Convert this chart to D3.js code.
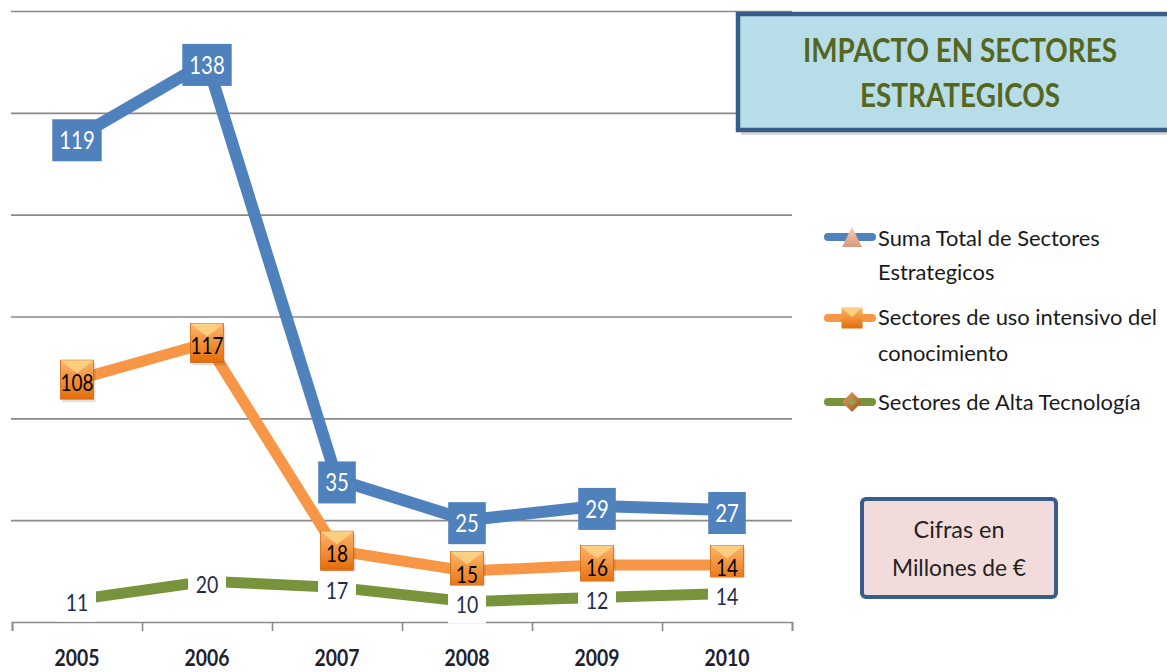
<!DOCTYPE html>
<html><head><meta charset="utf-8">
<script src="https://cdn.jsdelivr.net/npm/d3@7"></script>
<style>body{margin:0;background:#fff} svg{display:block;font-family:Lato,"Open Sans",sans-serif}</style>
</head><body>
<svg id="chart" width="1167" height="672"></svg>
<script>
// ---- data ----
const years = ["2005","2006","2007","2008","2009","2010"];
const altaTecnologia = [11,20,17,10,12,14];
const usoIntensivo = [108,117,18,15,16,14];
const sumaTotal = [119,138,35,25,29,27];
const yTicks = [0,50,100,150,200,250,300];
const legendLabels = [
  ["Suma Total de Sectores","Estrategicos"],
  ["Sectores de uso intensivo del","conocimiento"],
  ["Sectores de Alta Tecnología"]
];
const titleLines = ["IMPACTO EN SECTORES","ESTRATEGICOS"];
const noteLines = ["Cifras en","Millones de €"];

// ---- setup ----
const svg = d3.select("#chart");
const defs = svg.append("defs");
const og = defs.append("linearGradient").attr("id","orgGrad").attr("x1",0).attr("y1",0).attr("x2",0).attr("y2",1);
og.append("stop").attr("offset","0%").attr("stop-color","#FDB66C");
og.append("stop").attr("offset","100%").attr("stop-color","#E36C0A");
const pg = defs.append("linearGradient").attr("id","peachGrad").attr("x1",0).attr("y1",0).attr("x2",0).attr("y2",1);
pg.append("stop").attr("offset","0%").attr("stop-color","#F4CDB5");
pg.append("stop").attr("offset","100%").attr("stop-color","#D9987A");
const dg = defs.append("linearGradient").attr("id","diaGrad").attr("x1",0).attr("y1",0).attr("x2",1).attr("y2",1);
dg.append("stop").attr("offset","0%").attr("stop-color","#E0A060");
dg.append("stop").attr("offset","100%").attr("stop-color","#9A5522");

function fit(sel, w){
  sel.attr("textLength", w).attr("lengthAdjust","spacingAndGlyphs");
}

const rows = years.map((yr,i)=>({year:yr, alta:altaTecnologia[i], uso:usoIntensivo[i], suma:sumaTotal[i]}));
const stack = d3.stack().keys(["alta","uso","suma"]);
const stacked = stack(rows);

const x = d3.scaleBand().domain(years).range([12,792]);
const cx = d => x(d) + x.bandwidth()/2;
const y = d3.scaleLinear().domain([0,300]).range([622,11]);
const xb = d3.scaleLinear().domain([0,years.length]).range([12,792]);

// gridlines
const grid = svg.append("g").attr("transform","translate(11,0)")
  .call(d3.axisLeft(y).tickValues(yTicks.slice(1)).tickSize(-781).tickFormat(""));
grid.select(".domain").remove();
grid.selectAll("line").attr("stroke","#8a8a8a").attr("stroke-width",1.6);

// x axis ticks (band edges)
const xa = svg.append("g").attr("transform","translate(0,622)")
  .call(d3.axisBottom(xb).ticks(years.length).tickSize(9).tickSizeOuter(9).tickFormat(""));
xa.select(".domain").attr("stroke","#8a8a8a").attr("stroke-width",1.6);
xa.selectAll("line").attr("stroke","#8a8a8a").attr("stroke-width",1.6);

// year labels
const xl = svg.append("g").attr("transform","translate(0,622)")
  .call(d3.axisBottom(x).tickSize(0).tickPadding(28));
xl.select(".domain").remove();
xl.selectAll("text").attr("font-family","Lato, sans-serif").attr("font-size",23)
  .attr("font-weight","bold").attr("fill","#1b2230").call(fit, 45);

// ---- lines ----
const colors = {alta:"#77933C", uso:"#F79646", suma:"#4F81BD"};
const widths = {alta:11, uso:11, suma:12};
const line = d3.line().x(d=>cx(d.data.year)).y(d=>y(d[1]));
stacked.forEach(s=>{
  svg.append("path").datum(s).attr("d",line).attr("fill","none")
    .attr("stroke",colors[s.key]).attr("stroke-width",widths[s.key])
    .attr("stroke-linejoin","round");
});

const sAlta = stacked[0], sUso = stacked[1], sSuma = stacked[2];

// green diamonds + white labels
sAlta.forEach(d=>{
  const px = cx(d.data.year), py = y(d[1]);
  svg.append("path").attr("d",`M${px},${py-7}L${px+7},${py}L${px},${py+7}L${px-7},${py}Z`)
    .attr("fill","url(#diaGrad)");
});
// orange squares
sUso.forEach(d=>{
  const px = cx(d.data.year), py = y(d[1]);
  const w = 33, h = 39;
  const g = svg.append("g").attr("transform",`translate(${px},${py})`);
  g.append("rect").attr("x",-w/2+2).attr("y",-h/2+3).attr("width",w).attr("height",h).attr("fill","#000").attr("opacity",0.12);
  g.append("rect").attr("x",-w/2).attr("y",-h/2).attr("width",w).attr("height",h)
    .attr("fill","url(#orgGrad)").attr("stroke","#D2680E").attr("stroke-width",0.8);
  g.append("path").attr("d",`M${-w/2},${-h/2}L${w/2},${-h/2}L${w/2-6},${-h/2+5}L${0},${-h/2+13}L${-w/2+6},${-h/2+5}Z`)
    .attr("fill","#FFD98C").attr("opacity",0.75);
});
// blue triangles
sSuma.forEach(d=>{
  const px = cx(d.data.year), py = y(d[1]);
  svg.append("path").attr("d",`M${px},${py-9}L${px+8},${py+7}L${px-8},${py+7}Z`).attr("fill","url(#peachGrad)");
});

// ---- labels ----
// green
sAlta.forEach((d,i)=>{
  const px = cx(d.data.year), py = y(d[1]) + 3;
  const v = String(altaTecnologia[i]);
  svg.append("rect").attr("x",px-19).attr("y",py-19).attr("width",38).attr("height",38).attr("fill","#fff");
  svg.append("text").attr("x",px).attr("y",py+8.5).attr("text-anchor","middle")
    .attr("font-size",24).attr("fill","#1F2D4D").text(v).call(fit, v.length*11.3);
});
// orange
sUso.forEach((d,i)=>{
  const px = cx(d.data.year), py = y(d[1]) + 3;
  const v = String(usoIntensivo[i]);
  svg.append("text").attr("x",px).attr("y",py+8.5).attr("text-anchor","middle")
    .attr("font-size",24).attr("fill","#000").text(v).call(fit, v.length*11);
});
// blue
sSuma.forEach((d,i)=>{
  const px = cx(d.data.year), py = y(d[1]) + 3;
  const v = String(sumaTotal[i]);
  const tw = v.length*11.8;
  svg.append("rect").attr("x",px-(tw+14)/2).attr("y",py-21).attr("width",tw+14).attr("height",42).attr("fill","#4F81BD");
  svg.append("text").attr("x",px).attr("y",py+9).attr("text-anchor","middle")
    .attr("font-size",25).attr("fill","#fff").text(v).call(fit, tw);
});

// ---- legend ----
const legY = [237, 318, 402];
const legKeys = ["suma","uso","alta"];
const lg = svg.append("g");
legKeys.forEach((k,i)=>{
  const ly = legY[i];
  lg.append("line").attr("x1",828).attr("x2",872).attr("y1",ly).attr("y2",ly)
    .attr("stroke",colors[k]).attr("stroke-width",8).attr("stroke-linecap","round");
  const mx = 852;
  if(k==="suma"){
    lg.append("path").attr("d",`M${mx},${ly-10}L${mx+10},${ly+10}L${mx-10},${ly+10}Z`).attr("fill","url(#peachGrad)");
  } else if(k==="uso"){
    lg.append("rect").attr("x",mx-10.5).attr("y",ly-10.5).attr("width",21).attr("height",21).attr("fill","url(#orgGrad)");
    lg.append("path").attr("d",`M${mx-10.5},${ly-10.5}L${mx+10.5},${ly-10.5}L${mx},${ly-1}Z`).attr("fill","#FFD98C").attr("opacity",0.8);
  } else {
    lg.append("path").attr("d",`M${mx},${ly-10}L${mx+10},${ly}L${mx},${ly+10}L${mx-10},${ly}Z`).attr("fill","url(#diaGrad)");
    lg.append("path").attr("d",`M${mx},${ly-4}L${mx+4},${ly}L${mx},${ly+4}L${mx-4},${ly}Z`).attr("fill","#8FA74A");
  }
});
const legText = [];
const legLineY = [[238,272],[317,353],[402]];
legendLabels.forEach((lines,i)=>{
  lines.forEach((t,j)=>{
    const el = lg.append("text").attr("x",878).attr("y",legLineY[i][j]+7.5)
      .attr("font-size",21).attr("fill","#1a1a1a").text(t);
    legText.push(el);
  });
});
const refW = legText[2].node().getComputedTextLength();
const lf = 279 / refW;
legText.forEach(el=>{ const w = el.node().getComputedTextLength(); el.call(fit, w*lf); });

// ---- title box ----
svg.append("rect").attr("x",741).attr("y",17).attr("width",440).attr("height",118).attr("fill","#000").attr("opacity",0.15);
svg.append("rect").attr("x",738).attr("y",14).attr("width",440).attr("height",116)
  .attr("fill","#B7DEE8").attr("stroke","#385D8A").attr("stroke-width",4.5);
const titleBase = [62,107], titleW = [314,200];
titleLines.forEach((t,i)=>{
  svg.append("text").attr("x",960).attr("y",titleBase[i]).attr("text-anchor","middle")
    .attr("font-size",32).attr("font-weight","bold").attr("fill","#55661F").text(t).call(fit, titleW[i]);
});

// ---- note box ----
svg.append("rect").attr("x",862).attr("y",499).attr("width",194).attr("height",98).attr("rx",4)
  .attr("fill","#F2DCDB").attr("stroke","#385D8A").attr("stroke-width",4);
const noteBase = [538,576], noteW = [91,134];
noteLines.forEach((t,i)=>{
  svg.append("text").attr("x",959).attr("y",noteBase[i]).attr("text-anchor","middle")
    .attr("font-size",24).attr("fill","#222").text(t).call(fit, noteW[i]);
});
</script>
</body></html>
